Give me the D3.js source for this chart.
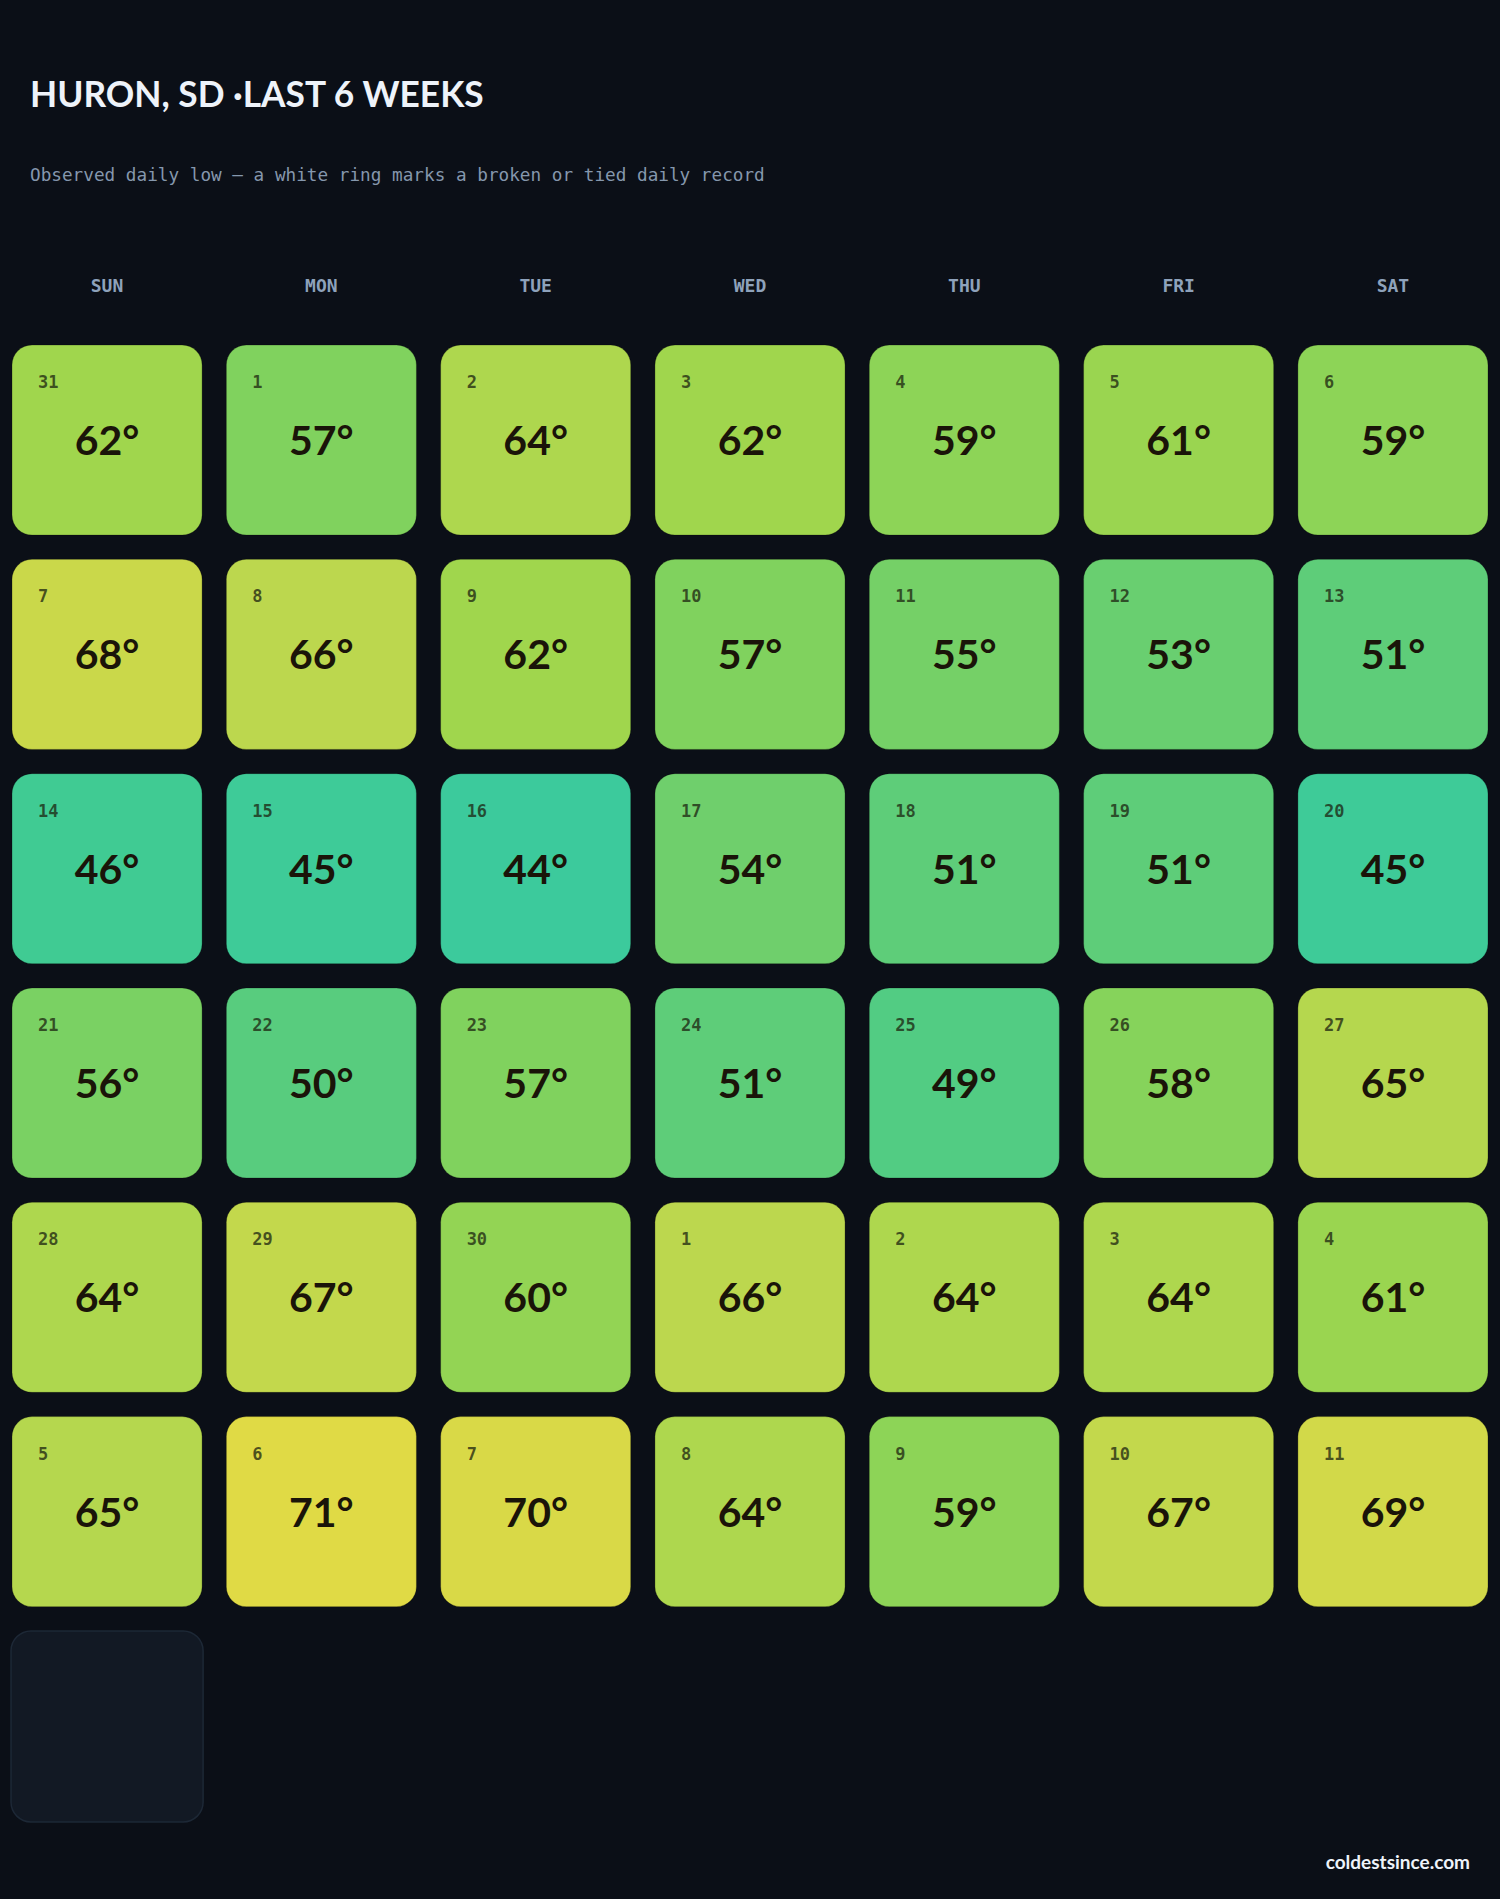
<!DOCTYPE html>
<html>
<head>
<meta charset="utf-8">
<script src="https://cdn.jsdelivr.net/npm/d3@7"></script>
<style>
  html, body { margin: 0; padding: 0; background: #0b0f17; }
  svg { display: block; }
</style>
</head>
<body>
<div id="chart"></div>
<script>
var width = 1500,
    height = 1899;

// chart data
var weekdays = ["SUN", "MON", "TUE", "WED", "THU", "FRI", "SAT"];
var dayNums = [
    [31, 1, 2, 3, 4, 5, 6],
    [7, 8, 9, 10, 11, 12, 13],
    [14, 15, 16, 17, 18, 19, 20],
    [21, 22, 23, 24, 25, 26, 27],
    [28, 29, 30, 1, 2, 3, 4],
    [5, 6, 7, 8, 9, 10, 11]
];
var lows = [
    [62, 57, 64, 62, 59, 61, 59],
    [68, 66, 62, 57, 55, 53, 51],
    [46, 45, 44, 54, 51, 51, 45],
    [56, 50, 57, 51, 49, 58, 65],
    [64, 67, 60, 66, 64, 64, 61],
    [65, 71, 70, 64, 59, 67, 69]
];
var records = []; // no broken / tied records in this period
var emptySlots = [{ week: 6, day: 0 }];

var svg = d3.select("#chart").append("svg")
    .attr("width", width)
    .attr("height", height);

svg.append("rect")
    .attr("width", width)
    .attr("height", height)
    .attr("fill", "#0b0f17");

// title + subtitle
var title = svg.append("text")
    .attr("x", 30)
    .attr("y", 107)
    .attr("fill", "#eef3fa")
    .style("font-family", "Lato, sans-serif")
    .style("font-weight", 700)
    .style("font-size", "39px")
    .text("HURON, SD ·LAST 6 WEEKS");
// squeeze to the width of the original title
var tw = title.node().getComputedTextLength();
if (tw > 454) title.style("font-size", (39 * 454 / tw) + "px");

svg.append("text")
    .attr("x", 30)
    .attr("y", 181)
    .attr("fill", "#8597ad")
    .style("font-family", "'DejaVu Sans Mono', monospace")
    .style("font-size", "17.7px")
    .text("Observed daily low — a white ring marks a broken or tied daily record");

// grid scales
var x = d3.scaleBand()
    .domain(d3.range(7))
    .range([12, 1488])
    .paddingInner(0.113)
    .paddingOuter(0);

var y = d3.scaleBand()
    .domain(d3.range(7))
    .range([345, 1821])
    .paddingInner(0.113)
    .paddingOuter(0);

var color = d3.scaleLinear()
    .domain([44, 46, 50, 57, 62, 66, 71])
    .range(["#3cca9c", "#40cb93", "#58cc7e", "#80d25e", "#a0d64d", "#bcd74e", "#e0da45"])
    .interpolate(d3.interpolateRgb)
    .clamp(true);

// weekday header
svg.append("g")
    .selectAll("text")
    .data(weekdays)
    .enter()
        .append("text")
        .attr("x", function(d, i) { return x(i) + x.bandwidth() / 2; })
        .attr("y", 292)
        .attr("text-anchor", "middle")
        .attr("fill", "#8ea2bb")
        .style("font-family", "'DejaVu Sans Mono', monospace")
        .style("font-weight", 700)
        .style("font-size", "18px")
        .text(function(d) { return d; });

// flatten weeks into cells
var cells = [];
for (var w = 0; w < lows.length; w++) {
    for (var d = 0; d < 7; d++) {
        cells.push({ week: w, day: d, num: dayNums[w][d], low: lows[w][d] });
    }
}

var cell = svg.append("g")
    .attr("class", "cells")
    .selectAll("g")
    .data(cells)
    .enter()
        .append("g")
        .attr("transform", function(d) { return "translate(" + x(d.day) + "," + y(d.week) + ")"; });

cell.append("rect")
    .attr("width", x.bandwidth())
    .attr("height", y.bandwidth())
    .attr("rx", 20)
    .attr("fill", function(d) { return color(d.low); })
    .attr("stroke", function(d) { return records.indexOf(d.week * 7 + d.day) >= 0 ? "#ffffff" : "rgba(0,0,0,0.25)"; })
    .attr("stroke-width", 1);

cell.append("text")
    .attr("x", 26)
    .attr("y", 43)
    .attr("fill", "#1c2410")
    .attr("fill-opacity", 0.75)
    .style("font-family", "'DejaVu Sans Mono', monospace")
    .style("font-weight", 700)
    .style("font-size", "17px")
    .text(function(d) { return d.num; });

cell.append("text")
    .attr("x", x.bandwidth() / 2)
    .attr("y", y.bandwidth() / 2 + 15)
    .attr("text-anchor", "middle")
    .attr("fill", "#1a1409")
    .style("font-family", "Lato, sans-serif")
    .style("font-weight", 700)
    .style("font-size", "41px")
    .text(function(d) { return d.low + "°"; });

// padding slot after the last week
svg.append("g")
    .selectAll("rect")
    .data(emptySlots)
    .enter()
        .append("rect")
        .attr("x", function(d) { return x(d.day) - 1; })
        .attr("y", function(d) { return y(d.week); })
        .attr("width", x.bandwidth() + 2)
        .attr("height", y.bandwidth() + 1)
        .attr("rx", 20)
        .attr("fill", "#121924")
        .attr("stroke", "#1d2836")
        .attr("stroke-width", 1.5);

// footer
svg.append("text")
    .attr("x", 1470)
    .attr("y", 1869)
    .attr("text-anchor", "end")
    .attr("fill", "#eef3fa")
    .style("font-family", "Lato, sans-serif")
    .style("font-weight", 700)
    .style("font-size", "19px")
    .text("coldestsince.com");
</script>
</body>
</html>
